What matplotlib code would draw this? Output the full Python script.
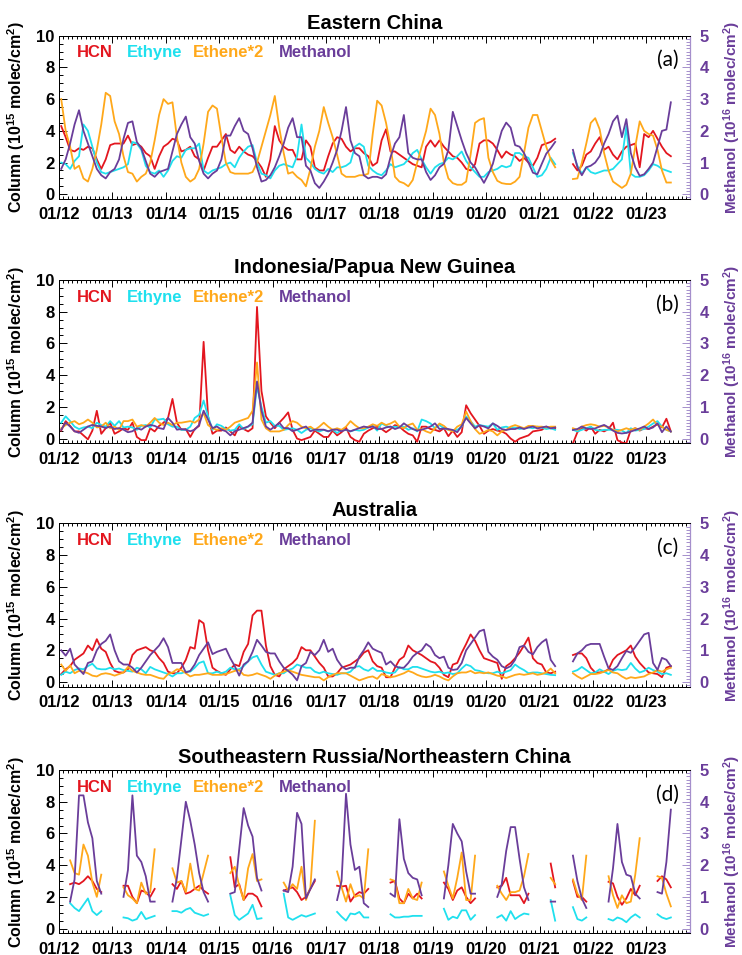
import numpy as np
import matplotlib
matplotlib.use("Agg")
import matplotlib.pyplot as plt
from matplotlib.ticker import MultipleLocator

nan = np.nan

# monthly columns, Jan 2012 .. Jun 2023 (138 months); one row per year
regions = ["Eastern China", "Indonesia/Papua New Guinea", "Australia",
           "Southeastern Russia/Northeastern China"]
tags = ["(a)", "(b)", "(c)", "(d)"]
species = ["HCN", "Ethyne", "Ethene*2", "Methanol"]
year_ticks = [0, 12, 24, 36, 48, 60, 72, 84, 96, 108, 120, 132]
year_labels = ["01/12", "01/13", "01/14", "01/15", "01/16", "01/17",
               "01/18", "01/19", "01/20", "01/21", "01/22", "01/23"]

# ---- (a) Eastern China : 1e15 molec/cm2, methanol in 1e16
hcn_a = [4.3, 3.6, 2.8, 2.7, 2.9, 2.8, 3.0, 2.9, 2.2, 1.6, 2.2, 3.1,
         3.2, 3.2, 3.2, 3.7, 3.1, 3.2, 3.0, 2.6, 2.4, 1.6, 2.4, 3.0,
         3.2, 3.5, 3.4, 2.7, 2.8, 3.0, 2.4, 2.2, 1.5, 2.3, 3.0, 3.0,
         3.4, 3.8, 2.8, 2.6, 3.0, 2.7, 2.5, 2.4, 2.1, 1.7, 1.1, 2.2,
         4.3, 3.4, 3.0, 2.8, 2.8, 2.2, 2.2, 3.4, 3.0, 1.7, 1.5, 1.5,
         2.4, 3.2, 3.6, 3.5, 3.0, 2.7, 2.9, 2.9, 2.6, 2.4, 1.8, 2.0,
         3.4, 4.1, 2.7, 2.7, 2.5, 2.3, 2.1, 1.9, 1.8, 1.7, 3.0, 3.4,
         3.0, 3.4, 3.0, 2.7, 2.4, 2.3, 2.0, 1.6, 1.5, 1.9, 3.2, 3.4,
         3.4, 3.2, 2.8, 2.3, 2.7, 2.5, 2.4, 2.1, 2.3, 2.0, 1.8, 2.3,
         3.1, 3.2, 3.3, 3.5, nan, nan, nan, 1.9, 1.5, 1.8, 2.5, 2.7,
         3.2, 3.6, 2.8, 3.0, 2.5, 2.2, 2.7, 3.0, 3.1, 3.2, 1.7, 3.8,
         3.6, 4.0, 3.5, 3.0, 2.6, 2.4]
ethyne_a = [2.0, 1.9, 1.6, 2.1, 2.4, 4.4, 4.0, 3.0, 2.0, 1.4, 1.3, 1.4,
            1.5, 1.6, 1.7, 1.9, 3.3, 3.2, 2.8, 1.8, 1.4, 1.3, 1.5, 1.1,
            1.5, 2.1, 2.4, 2.3, 2.8, 2.9, 2.9, 3.2, 1.5, 1.3, 1.5, 1.6,
            1.7, 1.9, 2.0, 1.7, 2.3, 2.7, 3.0, 3.1, 2.0, 1.3, 1.2, 1.0,
            1.5, 1.8, 1.9, 1.8, 1.7, 2.4, 4.4, 2.3, 2.0, 1.6, 1.4, 1.3,
            1.6, 1.4, 1.7, 1.7, 1.8, 2.0, 3.0, 3.2, 3.0, 1.8, 1.5, 1.3,
            1.2, 1.5, 1.9, 1.7, 1.8, 1.9, 2.2, 2.6, 2.8, 2.2, 1.7, 1.3,
            1.7, 1.9, 2.0, 2.3, 2.2, 2.4, 2.7, 2.1, 1.7, 1.4, 1.1, 1.1,
            1.4, 1.5, 1.6, 1.8, 1.7, 1.8, 2.6, 2.6, 2.4, 2.3, 1.7, 1.1,
            1.2, 1.6, 2.3, 1.9, nan, nan, nan, 2.6, 1.8, 1.3, 1.7, 1.4,
            1.3, 1.4, 1.5, 1.5, 1.6, 1.9, 2.2, 4.3, 1.3, 1.1, 1.1, 1.2,
            1.5, 1.9, 1.8, 1.6, 1.5, 1.4]
ethene_a = [6.0, 4.0, 3.0, 1.6, 1.8, 1.0, 0.8, 1.6, 2.8, 4.4, 6.4, 6.2,
            4.6, 3.8, 2.4, 1.4, 1.3, 0.8, 1.1, 1.3, 2.0, 3.4, 5.0, 6.0,
            5.7, 5.8, 3.6, 2.0, 1.1, 0.8, 1.0, 1.6, 3.2, 5.2, 5.6, 5.4,
            3.6, 2.0, 1.4, 1.3, 1.3, 1.3, 1.3, 1.4, 2.0, 3.0, 4.0, 5.0,
            6.2, 4.2, 2.6, 1.3, 1.4, 1.1, 0.9, 0.5, 1.6, 3.0, 4.0, 5.5,
            4.5, 3.6, 2.5, 1.3, 1.1, 1.1, 1.1, 1.2, 1.2, 1.3, 3.8, 5.9,
            5.6, 4.5, 3.0, 1.1, 0.8, 0.7, 0.5, 0.9, 2.0, 3.0, 4.0, 5.4,
            5.0, 3.8, 2.0, 1.0, 0.7, 0.6, 0.6, 0.8, 2.5, 4.5, 4.7, 4.8,
            2.3, 1.4, 0.85, 0.7, 0.65, 0.64, 0.8, 1.1, 2.6, 4.2, 5.0, 5.0,
            4.0, 3.0, 2.2, 1.7, nan, nan, nan, 0.96, 1.0, 2.0, 3.2, 4.5,
            4.8, 4.1, 2.6, 1.5, 0.8, 0.6, 0.4, 0.6, 1.3, 3.0, 4.6, 4.0,
            3.8, 3.7, 2.8, 1.5, 0.74, 0.74]
methanol_a = [0.8, 1.1, 1.6, 2.2, 2.65, 2.0, 1.6, 1.2, 0.8, 0.6, 0.5, 0.7,
              0.8, 1.1, 1.75, 2.25, 2.3, 1.65, 1.45, 1.05, 0.65, 0.55, 0.7, 0.75,
              0.8, 1.35, 1.9, 2.2, 2.45, 1.8, 1.6, 1.05, 0.65, 0.5, 0.65, 0.75,
              1.1, 1.85, 1.85, 2.15, 2.4, 2.0, 1.9, 1.45, 0.85, 0.4, 0.45, 0.6,
              0.85, 1.2, 1.6, 2.1, 2.4, 1.8, 1.8, 0.9, 0.75, 0.35, 0.2, 0.4,
              0.65, 1.0, 1.4, 2.0, 2.75, 1.7, 1.3, 1.2, 0.6, 0.5, 0.55, 0.55,
              0.5, 0.63, 1.17, 1.6, 1.8, 2.5, 1.3, 1.15, 1.1, 1.1, 0.7, 0.45,
              0.6, 0.85, 0.96, 1.4, 2.6, 2.15, 1.7, 1.3, 1.0, 0.85, 0.6, 0.36,
              0.63, 0.96, 1.5, 2.0, 2.26, 2.1, 1.55, 1.5, 1.3, 1.0, 0.68, 0.63,
              0.96, 1.28, 1.45, 1.65, nan, nan, nan, 1.4, 0.85, 0.6, 0.85, 0.9,
              1.0, 1.2, 1.6, 1.9, 2.3, 2.48, 1.8, 2.37, 1.3, 0.85, 0.58, 0.63,
              0.8, 1.0, 1.5, 2.0, 2.04, 2.9]

# ---- (b) Indonesia/Papua New Guinea
hcn_b = [0.5, 1.1, 0.8, 0.45, 0.45, 0.2, -0.05, 0.5, 1.75, 0.3, 0.65, 1.0,
         0.3, 0.45, 0.65, 0.55, 1.0, 0.1, -0.1, -0.1, 0.65, 0.45, 0.8, 1.0,
         1.3, 2.5, 1.0, 0.55, 0.6, 0.1, 0.6, 0.8, 6.1, 1.4, 0.3, 0.5,
         0.5, 0.7, 0.45, 0.2, 0.8, 0.6, 0.45, 0.65, 8.3, 3.0, 1.4, 1.0,
         0.65, 1.0, 1.3, 1.65, 0.55, 0.0, -0.1, 0.0, 0.1, 0.5, 0.3, 0.1,
         0.1, 0.5, 0.2, 0.4, 0.7, 0.1, -0.1, -0.2, 0.3, 0.5, 0.65, 0.75,
         0.6, 0.4, 0.6, 0.85, 0.75, 0.5, 0.3, 0.2, -0.2, 0.75, 0.75, 0.6,
         0.55, 0.45, 0.65, 0.15, 0.5, 0.1, 0.4, 2.1, 1.6, 1.2, 0.8, 0.3,
         0.5, 0.6, 0.5, 0.45, 0.3, 0.0, -0.2, 0.0, 0.1, 0.2, 0.45, 0.5,
         0.55, 0.75, 0.7, 0.65, nan, nan, nan, -0.3, 0.4, 0.7, 0.5, 0.75,
         0.3, 0.55, 0.45, 0.6, 1.0, -0.1, -0.25, -0.3, 0.55, 0.65, 0.5, 0.65,
         0.6, 0.75, 0.9, 0.7, 1.25, 0.45]
ethyne_b = [1.0, 1.4, 1.1, 0.75, 0.6, 0.7, 0.75, 0.65, 1.0, 0.85, 0.75, 1.1,
            0.8, 1.1, 0.7, 0.75, 0.7, 0.55, 0.8, 0.85, 0.7, 1.2, 1.2, 1.25,
            0.9, 0.75, 0.75, 0.55, 0.55, 0.75, 1.3, 1.5, 2.4, 1.4, 0.55, 0.9,
            0.8, 0.6, 0.5, 0.55, 0.9, 0.6, 0.75, 0.9, 3.3, 2.0, 1.0, 1.1,
            0.8, 0.8, 0.55, 0.6, 0.65, 0.55, 0.35, 0.55, 0.65, 0.55, 0.45, 0.55,
            0.45, 0.55, 0.35, 0.55, 0.55, 0.45, 0.55, 0.5, 0.55, 0.7, 0.8, 0.5,
            0.95, 0.8, 0.7, 0.75, 0.7, 0.75, 0.55, 0.65, 0.45, 1.2, 1.1, 0.95,
            0.65, 0.85, 0.65, 0.55, 0.5, 0.55, 0.75, 1.4, 1.1, 0.75, 0.85, 0.8,
            0.75, 0.95, 0.55, 0.7, 0.75, 0.65, 0.7, 0.6, 0.65, 0.7, 0.65, 0.75,
            0.7, 0.6, 0.65, 0.55, nan, nan, nan, 0.55, 0.45, 0.55, 0.65, 0.75,
            0.55, 0.5, 0.55, 0.55, 0.55, 0.55, 0.5, 0.35, 0.65, 0.5, 0.55, 0.6,
            0.75, 0.95, 1.1, 0.75, 0.55, 0.45]
ethene_b = [0.65, 0.85, 1.0, 1.1, 0.9, 1.0, 1.2, 1.0, 0.7, 0.75, 1.0, 0.65,
            0.75, 0.55, 1.1, 1.1, 1.2, 0.75, 0.85, 0.75, 1.0, 1.3, 1.0, 0.85,
            1.0, 0.85, 1.0, 1.0, 1.05, 1.1, 1.0, 1.2, 1.6, 0.85, 0.65, 0.55,
            0.65, 0.55, 0.75, 1.0, 1.1, 1.2, 1.3, 1.75, 4.8, 1.2, 0.65, 0.45,
            0.45, 0.45, 0.55, 0.85, 1.1, 1.0, 0.75, 0.65, 0.75, 0.55, 0.75, 1.0,
            0.75, 0.55, 0.65, 0.55, 0.75, 1.1, 0.85, 0.65, 0.65, 0.75, 0.9, 0.8,
            1.0, 0.85, 0.95, 1.1, 0.75, 0.65, 0.85, 0.95, 0.55, 0.6, 0.45, 0.35,
            0.65, 0.95, 0.8, 0.55, 0.45, 0.75, 0.9, 1.7, 1.1, 0.6, 0.3, 0.4,
            0.55, 0.45, 0.2, 0.45, 0.55, 0.75, 0.85, 0.75, 0.65, 0.8, 0.8, 0.75,
            0.75, 0.7, 0.75, 0.75, nan, nan, nan, 0.65, 0.55, 0.75, 0.85, 0.9,
            0.85, 0.75, 0.8, 0.7, 0.55, 0.45, 0.55, 0.65, 0.55, 0.65, 0.55, 0.75,
            0.95, 1.2, 0.85, 0.75, 0.55, 0.45]
methanol_b = [0.28, 0.5, 0.38, 0.23, 0.18, 0.28, 0.38, 0.43, 0.4, 0.38, 0.33, 0.38,
              0.3, 0.33, 0.28, 0.2, 0.23, 0.33, 0.28, 0.38, 0.43, 0.4, 0.33, 0.3,
              0.65, 0.5, 0.28, 0.3, 0.28, 0.23, 0.28, 0.43, 0.88, 0.6, 0.33, 0.38,
              0.28, 0.23, 0.1, 0.23, 0.28, 0.33, 0.38, 0.5, 1.8, 0.88, 0.38, 0.28,
              0.38, 0.5, 0.33, 0.33, 0.23, 0.28, 0.33, 0.38, 0.23, 0.28, 0.28, 0.28,
              0.23, 0.28, 0.28, 0.23, 0.28, 0.23, 0.28, 0.33, 0.38, 0.35, 0.38, 0.3,
              0.3, 0.35, 0.38, 0.3, 0.35, 0.48, 0.38, 0.3, 0.25, 0.28, 0.32, 0.38,
              0.48, 0.3, 0.32, 0.3, 0.27, 0.2, 0.4, 0.65, 0.48, 0.32, 0.42, 0.38,
              0.32, 0.48, 0.4, 0.3, 0.27, 0.3, 0.3, 0.35, 0.3, 0.35, 0.38, 0.32,
              0.35, 0.38, 0.32, 0.35, nan, nan, nan, 0.27, 0.3, 0.38, 0.32, 0.3,
              0.32, 0.38, 0.43, 0.35, 0.25, 0.18, 0.16, 0.18, 0.22, 0.27, 0.32, 0.38,
              0.3, 0.35, 0.48, 0.2, 0.38, 0.22]

# ---- (c) Australia
hcn_c = [0.5, 0.8, 1.0, 1.4, 1.6, 1.8, 2.3, 2.0, 2.7, 2.1, 1.9, 1.2,
         0.7, 0.6, 0.6, 0.8, 1.7, 2.0, 2.1, 2.2, 2.0, 1.9, 1.5, 1.2,
         0.65, 0.55, 0.55, 0.9, 1.4, 2.2, 2.1, 3.9, 3.7, 2.0, 0.9, 0.7,
         0.55, 0.45, 0.8, 1.1, 1.0, 1.9, 2.4, 4.2, 4.5, 4.5, 2.3, 1.0,
         0.45, 0.35, 0.8, 1.0, 1.2, 1.5, 2.2, 2.0, 2.0, 1.6, 1.2, 0.9,
         0.35, 0.35, 0.55, 0.9, 1.0, 1.1, 1.3, 1.5, 1.85, 2.0, 1.3, 1.0,
         0.9, 0.3, 0.3, 0.9, 1.4, 1.6, 2.3, 2.0, 1.85, 1.7, 1.5, 1.3,
         1.2, 0.9, 0.45, 0.3, 1.1, 1.2, 1.85, 2.4, 3.0, 2.6, 2.0, 1.5,
         1.4, 1.3, 1.2, 0.2, 1.0, 1.2, 1.5, 1.85, 2.3, 2.8, 1.5, 1.2,
         1.1, 0.6, 0.55, 0.65, nan, nan, nan, 1.7, 1.8, 1.8, 1.5, 0.9,
         0.6, 0.6, 0.65, 0.8, 1.4, 1.7, 1.85, 2.0, 2.3, 1.6, 1.2, 0.9,
         0.6, 0.55, 0.5, 0.3, 0.9, 1.0]
ethyne_c = [0.45, 0.65, 0.55, 0.75, 0.85, 0.8, 1.0, 1.15, 0.85, 0.8, 0.8, 0.9,
            0.8, 0.85, 0.75, 0.7, 0.65, 0.9, 0.8, 0.55, 0.95, 0.8, 0.7, 0.6,
            0.5, 0.35, 0.55, 0.55, 0.65, 0.65, 0.9, 1.2, 1.3, 0.55, 0.55, 0.65,
            0.55, 0.65, 0.9, 0.8, 0.8, 1.0, 1.3, 1.55, 1.65, 1.1, 0.65, 0.55,
            0.45, 0.55, 0.55, 0.75, 0.85, 1.1, 1.0, 0.9, 0.9, 0.65, 0.55, 0.65,
            0.55, 0.5, 0.45, 0.55, 0.55, 0.65, 0.95, 1.0, 0.8, 0.7, 0.9, 0.7,
            0.7, 0.6, 0.55, 0.6, 0.95, 0.8, 0.8, 0.95, 0.95, 0.85, 0.75, 0.65,
            0.6, 0.65, 0.55, 0.6, 0.5, 0.55, 0.85, 1.1, 1.0, 0.75, 0.7, 0.6,
            0.55, 0.55, 0.65, 0.55, 0.65, 0.75, 1.1, 0.9, 0.75, 0.55, 0.6, 0.6,
            0.55, 0.5, 0.45, 0.43, nan, nan, nan, 0.65, 0.75, 0.95, 0.75, 0.55,
            0.6, 0.8, 0.65, 0.5, 0.7, 0.8, 0.75, 0.8, 1.2, 0.85, 0.6, 0.7,
            0.9, 0.75, 0.65, 0.5, 0.55, 0.45]
ethene_c = [1.1, 0.7, 1.05, 0.55, 0.7, 0.65, 0.55, 0.4, 0.35, 0.5, 0.55, 0.5,
            0.4, 0.5, 0.6, 0.95, 0.7, 0.6, 0.5, 0.45, 0.45, 0.35, 0.25, 0.2,
            0.5, 0.6, 0.8, 0.75, 0.55, 0.35, 0.45, 0.45, 0.5, 0.55, 0.45, 0.45,
            0.45, 0.5, 0.6, 0.7, 0.75, 0.45, 0.4, 0.45, 0.55, 0.45, 0.35, 0.2,
            0.4, 0.55, 0.65, 0.75, 0.65, 0.55, 0.45, 0.4, 0.35, 0.3, 0.3, 0.1,
            0.3, 0.45, 0.55, 0.55, 0.55, 0.4, 0.25, 0.1, 0.2, 0.3, 0.35, 0.2,
            0.5, 0.4, 0.3, 0.35, 0.45, 0.55, 0.7, 0.6, 0.45, 0.35, 0.3, 0.35,
            0.45, 0.35, 0.2, 0.1, 0.35, 0.55, 0.6, 0.6, 0.7, 0.55, 0.6, 0.55,
            0.6, 0.5, 0.4, 0.35, 0.25, 0.35, 0.45, 0.5, 0.45, 0.5, 0.55, 0.45,
            0.5, 0.6, 0.85, 0.55, nan, nan, nan, 0.55, 0.35, 0.2, 0.35, 0.5,
            0.5, 0.55, 0.65, 0.76, 0.6, 0.55, 0.35, 0.2, 0.3, 0.25, 0.3, 0.35,
            0.5, 0.6, 0.75, 0.65, 0.8, 0.9]
methanol_c = [1.0, 0.83, 1.05, 0.55, 0.4, 0.25, 0.6, 0.65, 1.0, 1.2, 1.3, 1.5,
              1.0, 0.65, 0.55, 0.55, 0.45, 0.3, 0.45, 0.65, 0.85, 1.0, 1.15, 1.38,
              1.1, 0.6, 0.6, 0.6, 0.3, 0.35, 0.55, 0.85, 1.05, 1.25, 0.88, 0.95,
              1.0, 1.05, 0.75, 0.5, 0.2, 0.55, 0.65, 0.95, 1.33, 1.15, 0.95, 0.9,
              0.9, 0.65, 0.45, 0.35, 0.23, 0.05, 0.5, 0.6, 0.95, 0.85, 1.0, 1.33,
              0.95, 1.05, 0.7, 0.5, 0.4, 0.45, 0.45, 0.8, 1.0, 1.25, 1.05, 0.98,
              0.92, 0.55, 0.65, 0.5, 0.45, 0.45, 0.6, 0.8, 0.92, 1.0, 1.2, 1.1,
              0.85, 0.75, 0.8, 0.45, 0.38, 0.4, 0.6, 1.0, 1.2, 1.4, 1.6, 1.65,
              0.95, 0.8, 0.7, 0.5, 0.43, 0.5, 0.7, 1.1, 1.15, 0.95, 0.87, 1.1,
              1.25, 1.35, 0.7, 0.5, nan, nan, nan, 0.65, 0.9, 1.0, 1.15, 1.2,
              1.2, 1.2, 0.8, 0.43, 0.38, 0.5, 0.75, 0.98, 0.92, 1.1, 1.3, 1.5,
              1.55, 0.6, 0.38, 0.76, 0.7, 0.5]

# ---- (d) Southeastern Russia/Northeastern China (warm season only)
hcn_d = [nan, nan, 2.8, 2.9, 2.8, 3.0, 3.3, 3.0, 2.5, 2.3, nan, nan,
         nan, nan, 2.7, 2.7, 2.0, 1.6, 2.4, 2.3, 2.0, 2.5, nan, nan,
         nan, 2.8, 2.5, 3.0, 2.2, 2.3, 2.5, 2.7, 2.4, 2.2, nan, nan,
         nan, nan, 4.5, 2.6, 2.8, 1.8, 2.2, 2.2, 2.0, 1.4, nan, nan,
         nan, nan, 2.4, 2.5, 2.6, 2.3, 1.8, 2.0, 2.5, 3.0, nan, nan,
         nan, nan, 2.7, 2.65, 2.7, 1.7, 2.1, 2.3, 2.2, 2.5, nan, nan,
         nan, nan, 2.9, 3.0, 1.9, 1.6, 2.2, 1.9, 2.2, 1.9, nan, nan,
         nan, nan, 2.9, 2.5, 1.8, 2.4, 2.6, 2.0, 1.6, 1.9, nan, nan,
         nan, nan, 2.6, 2.7, 3.2, 2.1, 2.1, 2.1, 1.6, 2.2, nan, nan,
         nan, nan, 4.1, 2.6, nan, nan, nan, 3.0, 2.0, 2.0, 1.7, nan,
         nan, nan, nan, 2.95, 2.85, 2.0, 1.5, 1.9, 2.5, 2.1, 2.7, nan,
         nan, nan, 3.0, 3.3, 3.1, 2.6]
ethyne_d = [nan, nan, 1.6, 1.3, 1.1, 1.5, 1.9, 1.1, 0.85, 1.1, nan, nan,
            nan, nan, 0.7, 0.65, 0.5, 0.6, 1.05, 0.6, 0.7, 0.8, nan, nan,
            nan, 1.1, 1.1, 1.0, 1.2, 1.3, 1.0, 0.9, 0.8, 0.9, nan, nan,
            nan, nan, 2.1, 0.85, 0.55, 0.75, 0.95, 1.5, 0.6, 0.65, nan, nan,
            nan, nan, 2.2, 0.7, 0.55, 0.7, 0.85, 0.75, 0.85, 0.95, nan, nan,
            nan, nan, 1.05, 0.75, 0.5, 0.95, 0.9, 1.05, 0.7, 0.7, nan, nan,
            nan, nan, 0.9, 0.7, 0.7, 0.75, 0.75, 0.8, 0.8, 0.8, nan, nan,
            nan, nan, 1.25, 0.55, 0.75, 0.65, 1.15, 1.15, 0.55, 0.85, nan, nan,
            nan, nan, 0.7, 0.85, 0.5, 1.1, 0.6, 0.8, 0.95, 0.9, nan, nan,
            nan, nan, 1.8, 0.5, nan, nan, nan, 1.35, 0.6, 0.5, 0.7, nan,
            nan, nan, nan, 0.6, 0.5, 0.7, 0.6, 0.4, 0.7, 0.9, 0.7, nan,
            nan, nan, 0.9, 0.7, 0.6, 0.7]
ethene_d = [nan, nan, 4.3, 3.5, 3.4, 5.3, 4.6, 2.9, 2.0, 3.4, nan, nan,
            nan, nan, 2.6, 2.1, 1.9, 1.6, 2.9, 2.2, 2.3, 5.0, nan, nan,
            nan, 3.8, 2.9, 3.0, 2.3, 4.1, 2.5, 2.4, 3.5, 4.6, nan, nan,
            nan, nan, 3.5, 3.9, 2.7, 1.8, 3.8, 4.7, 3.0, 3.1, nan, nan,
            nan, nan, 2.9, 2.4, 2.8, 2.5, 3.9, 1.8, 2.6, 6.8, nan, nan,
            nan, nan, 3.6, 2.6, 1.7, 2.8, 2.0, 2.1, 1.9, 5.0, nan, nan,
            nan, nan, 3.1, 3.0, 1.6, 1.6, 2.5, 1.9, 1.8, 2.9, nan, nan,
            nan, nan, 3.6, 2.7, 1.9, 3.2, 4.8, 1.8, 1.8, 4.6, nan, nan,
            nan, nan, 2.7, 2.2, 1.8, 2.3, 2.3, 2.4, 3.3, 4.7, nan, nan,
            nan, nan, 3.2, 2.8, nan, nan, nan, 3.1, 2.2, 1.8, 4.6, nan,
            nan, nan, nan, 3.3, 2.1, 1.3, 2.1, 1.6, 1.7, 3.4, 5.7, nan,
            nan, nan, 3.3, 3.2, 2.2, 1.4]
methanol_d = [nan, nan, 0.85, 1.55, 4.2, 4.2, 3.35, 2.85, 1.5, 1.1, nan, nan,
              nan, nan, 1.0, 1.85, 4.2, 2.3, 2.1, 1.65, 0.85, 0.85, nan, nan,
              nan, 0.85, 1.6, 2.8, 4.0, 3.4, 2.65, 1.75, 1.15, 0.85, nan, nan,
              nan, nan, 1.1, 1.15, 2.5, 3.8, 3.25, 2.9, 1.6, 1.2, nan, nan,
              nan, nan, 1.2, 1.15, 1.95, 3.65, 3.3, 0.95, 1.25, 1.55, nan, nan,
              nan, nan, 0.9, 1.5, 4.25, 2.65, 1.85, 1.95, 0.8, 0.68, nan, nan,
              nan, nan, 1.1, 1.0, 3.45, 2.2, 1.75, 1.6, 1.55, 1.05, nan, nan,
              nan, nan, 0.95, 2.0, 3.3, 3.0, 2.75, 1.8, 1.1, 1.1, nan, nan,
              nan, nan, 1.0, 1.4, 2.45, 3.2, 3.2, 2.2, 1.3, 0.9, nan, nan,
              nan, nan, 0.85, 0.85, nan, nan, nan, 2.3, 1.5, 0.95, 0.65, nan,
              nan, nan, nan, 0.85, 1.9, 3.3, 2.1, 1.7, 1.65, 1.1, 0.95, nan,
              nan, nan, 1.15, 1.1, 2.1, 3.75]

panels = [
    (hcn_a, ethyne_a, ethene_a, methanol_a),
    (hcn_b, ethyne_b, ethene_b, methanol_b),
    (hcn_c, ethyne_c, ethene_c, methanol_c),
    (hcn_d, ethyne_d, ethene_d, methanol_d),
]

colors = ["#e3161f", "#1fe0ee", "#ffa81a", "#6a3d9a"]
purple = "#6a3d9a"
light_purple = "#a58fcc"

plt.rcParams["font.family"] = ["Liberation Sans", "DejaVu Sans"]
plt.rcParams["font.weight"] = "bold"
plt.rcParams["mathtext.fontset"] = "custom"
plt.rcParams["mathtext.rm"] = "Liberation Sans:bold"
plt.rcParams["mathtext.bf"] = "Liberation Sans:bold"
plt.rcParams["mathtext.default"] = "bf"

fig = plt.figure(figsize=(7.42, 9.55), dpi=100)
bottoms = [0.7916, 0.5358, 0.2809, 0.0227]
label_x = [0.0285, 0.108, 0.212, 0.349]

for n in range(4):
    hcn, eth, ethn, meth = panels[n]
    x = np.arange(len(hcn)) + 0.5
    ax = fig.add_axes([0.0795, bottoms[n], 0.8504, 0.171])
    ax2 = ax.twinx()

    ax.plot(x, hcn, color=colors[0], lw=1.3)
    ax.plot(x, eth, color=colors[1], lw=1.3)
    ax.plot(x, ethn, color=colors[2], lw=1.3)
    ax2.plot(x, meth, color=colors[3], lw=1.3)

    ax.set_xlim(0, 141.8)
    ax.set_ylim(-0.3, 10)
    ax2.set_ylim(-0.15, 5)

    ax.set_xticks(year_ticks)
    ax.set_xticklabels(year_labels)
    ax.xaxis.set_minor_locator(MultipleLocator(1))
    ax.set_yticks([0, 2, 4, 6, 8, 10])
    ax.yaxis.set_minor_locator(MultipleLocator(0.5))
    ax.tick_params(axis="x", which="both", direction="in", top=True,
                   labelsize=12, pad=6, width=0.7)
    ax.tick_params(axis="x", which="major", length=5)
    ax.tick_params(axis="x", which="minor", length=2.2)
    ax.tick_params(axis="y", which="both", direction="in", labelsize=12,
                   pad=3, width=0.7)
    ax.tick_params(axis="y", which="major", length=6)
    ax.tick_params(axis="y", which="minor", length=3)

    ax2.set_yticks([0, 1, 2, 3, 4, 5])
    ax2.yaxis.set_minor_locator(MultipleLocator(0.1))
    ax2.tick_params(axis="y", which="both", direction="in", color=light_purple,
                    labelcolor=purple, labelsize=12, pad=7, width=0.7)
    ax2.tick_params(axis="y", which="major", length=6)
    ax2.tick_params(axis="y", which="minor", length=3)
    for sp in ["left", "top", "bottom"]:
        ax.spines[sp].set_linewidth(0.7)
        ax2.spines[sp].set_linewidth(0.7)
    ax.spines["right"].set_visible(False)
    ax2.spines["right"].set_color(light_purple)
    ax2.spines["right"].set_linewidth(0.9)

    ax.set_ylabel("Column (10$^{15}$ molec/cm$^2$)", fontsize=11.5,
                  fontweight="bold")
    ax.yaxis.set_label_coords(-0.05, 0.5)
    ax2.set_ylabel("Methanol (10$^{16}$ molec/cm$^2$)", fontsize=11,
                   fontweight="bold", color=purple)
    ax2.yaxis.set_label_coords(1.049, 0.5)

    ax.set_title(regions[n], fontsize=14.5, fontweight="bold", pad=5)

    for k in range(4):
        ax.text(label_x[k], 0.895, species[k], color=colors[k],
                transform=ax.transAxes, fontsize=12, fontweight="bold",
                ha="left", va="center")
    ax.text(0.965, 0.85, tags[n], transform=ax.transAxes, fontsize=15,
            fontweight="normal", family=["Lato", "DejaVu Sans"],
            ha="center", va="center")

fig.savefig("out.png", dpi=100)
